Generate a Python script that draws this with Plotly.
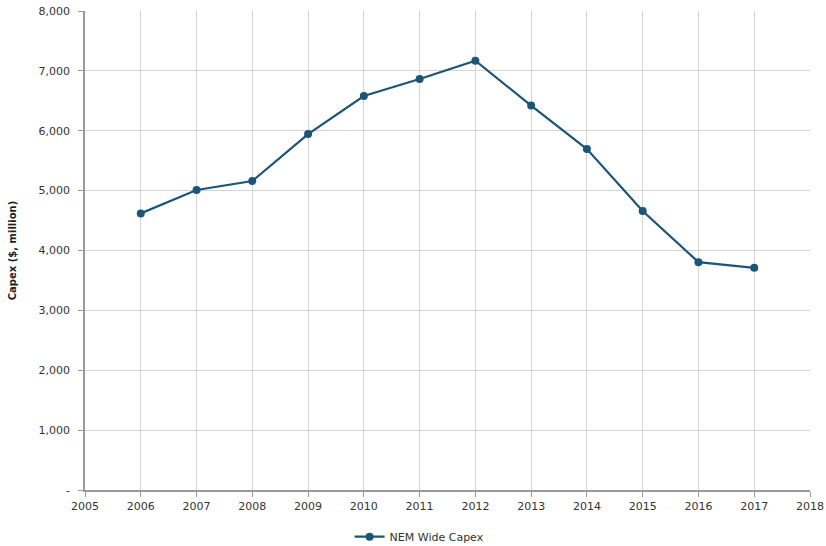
import plotly.graph_objects as go

years = [2006, 2007, 2008, 2009, 2010, 2011, 2012, 2013, 2014, 2015, 2016, 2017]
capex = [4620, 5010, 5160, 5945, 6580, 6865, 7170, 6420, 5695, 4660, 3805, 3710]
y_ticks = [0, 1000, 2000, 3000, 4000, 5000, 6000, 7000, 8000]
y_labels = ["-", "1,000", "2,000", "3,000", "4,000", "5,000", "6,000", "7,000", "8,000"]
x_ticks = list(range(2005, 2019))

fig = go.Figure()
fig.add_trace(go.Scatter(
    x=years, y=capex, mode="lines+markers", name="NEM Wide Capex",
    line=dict(color="#1b5676", width=2.2),
    marker=dict(color="#1b5676", size=8),
))

font = "Tahoma, DejaVu Sans, sans-serif"
fig.update_layout(
    width=826, height=546,
    margin=dict(l=85, r=16, t=11, b=56, autoexpand=False),
    plot_bgcolor="white", paper_bgcolor="white",
    font=dict(family=font, size=11, color="#333333"),
    showlegend=True,
    legend=dict(orientation="h", xref="container", x=0.508, xanchor="center",
                yref="container", y=0.017, yanchor="middle",
                font=dict(size=11, color="#333333")),
    xaxis=dict(range=[2005, 2018], tickmode="array", tickvals=x_ticks,
               ticktext=[str(v) for v in x_ticks],
               showgrid=True, gridcolor="#d4d4d4", gridwidth=1,
               showline=True, linecolor="#9a9a9a", linewidth=1.5,
               ticks="outside", ticklen=5, tickcolor="#9a9a9a", zeroline=False),
    yaxis=dict(range=[0, 8000], tickmode="array", tickvals=y_ticks, ticktext=y_labels,
               showgrid=True, gridcolor="#d4d4d4", gridwidth=1,
               showline=True, linecolor="#9a9a9a", linewidth=1.5,
               ticks="outside", ticklen=5, tickcolor="#9a9a9a", zeroline=False,
               ticklabelstandoff=6,
               title=dict(text="<b>Capex ($, million)</b>", font=dict(size=10, color="#222222"),
                          standoff=20)),
)

fig.write_html("out.html")
